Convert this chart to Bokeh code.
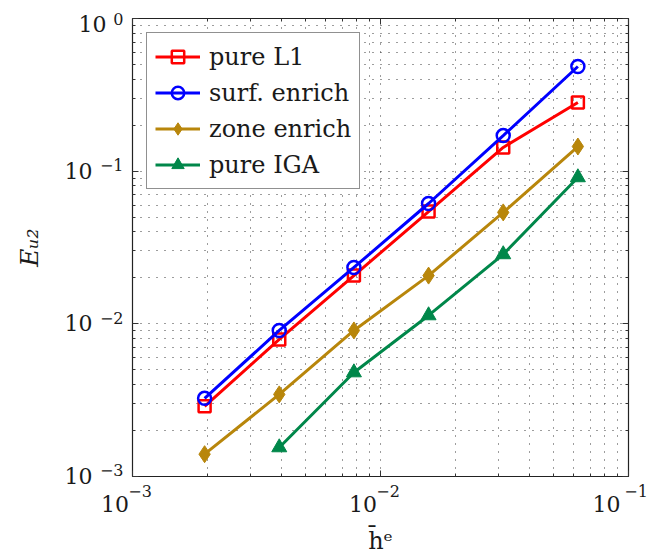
from bokeh.plotting import figure
from bokeh.models import (FixedTicker, LogAxis, Legend, LegendItem, Range1d)
from bokeh.embed import file_html
from bokeh.resources import INLINE

# ---- data ----
h = [1/512, 1/256, 1/128, 1/64, 1/32, 1/16]
pure_l1 = [2.88e-3, 7.9e-3, 0.0207, 0.0544, 0.143, 0.282]
surf_enrich = [3.25e-3, 9.05e-3, 0.0234, 0.0614, 0.171, 0.485]
zone_enrich = [1.40e-3, 3.45e-3, 9.05e-3, 0.0207, 0.0537, 0.145]
h_iga = [1/256, 1/128, 1/64, 1/32, 1/16]
pure_iga = [1.55e-3, 4.8e-3, 0.01135, 0.0285, 0.091]

x_major = [1e-3, 1e-2, 1e-1]
x_exps = ["−3", "−2", "−1"]
y_major = [1e-3, 1e-2, 1e-1, 1e0]
y_exps = ["−3", "−2", "−1", "0"]

RED, BLUE, GOLD, GREEN = "#ff0000", "#0000ff", "#b8860b", "#00874a"
FONT = "DejaVu Serif"
TXT = "#1a1a1a"
FS, PS = "\u2007", "\u2008"   # figure space, punctuation space (non-collapsing)

def minors(majors):
    out = []
    for m in majors[:-1]:
        out += [m * k for k in range(2, 10)]
    return out

def mk_ticker(majors):
    return FixedTicker(ticks=majors, minor_ticks=minors(majors))

p = figure(width=655, height=557, x_axis_type="log", y_axis_type="log",
           x_range=Range1d(1e-3, 1e-1), y_range=Range1d(1e-3, 1e0),
           output_backend="svg", toolbar_location=None,
           min_border_left=132, min_border_right=27,
           min_border_top=18, min_border_bottom=81)
p.outline_line_color = "#222222"
p.outline_line_width = 1.2

def tick_style(ax):
    ax.major_tick_in = 6
    ax.major_tick_out = 0
    ax.minor_tick_in = 3
    ax.minor_tick_out = 0
    ax.axis_line_color = None
    ax.major_tick_line_color = "#333333"
    ax.minor_tick_line_color = "#333333"

def label_axis(ticks, labels, size, standoff):
    return LogAxis(ticker=FixedTicker(ticks=ticks),
                   major_label_overrides=dict(zip(ticks, labels)),
                   major_label_text_font=FONT,
                   major_label_text_font_size=f"{size}px",
                   major_label_text_color=TXT,
                   major_label_standoff=standoff,
                   major_tick_in=0, major_tick_out=0,
                   minor_tick_in=0, minor_tick_out=0,
                   major_tick_line_color=None, minor_tick_line_color=None,
                   axis_line_color=None,
                   axis_label_text_font=FONT,
                   axis_label_text_color=TXT)

# ---- x axis: primary carries ticks + exponents, second axis carries "10"
xa = p.xaxis[0]
xa.ticker = mk_ticker(x_major)
tick_style(xa)
xa.major_label_overrides = {v: FS + PS + e for v, e in zip(x_major, x_exps)}
xa.major_label_text_font = FONT
xa.major_label_text_font_size = "16px"
xa.major_label_text_color = TXT
xa.major_label_standoff = 5

xb = label_axis(x_major, ["10" + FS + FS + PS] * len(x_major), 22, -12)
xb.axis_label = "h̄ᵉ"
xb.axis_label_text_font_size = "24px"
xb.axis_label_text_font_style = "normal"
xb.axis_label_standoff = 7
p.add_layout(xb, "below")

# ---- y axis: primary carries ticks only, then exponents (raised), then "10"
ya = p.yaxis[0]
ya.ticker = mk_ticker(y_major)
tick_style(ya)
ya.major_label_overrides = {v: FS for v in y_major}
ya.major_label_text_font_size = "8px"
ya.major_label_text_color = None
ya.major_label_standoff = 0

# exponent labels sit a little above their decade (x1.1 ~ 6 px); the top one stays
y_exp_pos = [v * 1.1 for v in y_major[:-1]] + [y_major[-1]]
y_exp_pos = [float(f"{v:.4g}") for v in y_exp_pos]
yc = label_axis(y_exp_pos, y_exps, 16, 9)
p.add_layout(yc, "left")

# "10" labels on the decades; the top one sits a little lower
y_ten_pos = list(y_major[:-1]) + [0.91]
y_ten_lab = ["10" + FS] * (len(y_major) - 1) + ["10"]
yb = label_axis(y_ten_pos, y_ten_lab, 22, -10)
yb.axis_label = "Eᵤ₂"
yb.axis_label_text_font_size = "25px"
yb.axis_label_text_font_style = "italic"
yb.axis_label_standoff = 18
p.add_layout(yb, "left")

# mirrored ticks on top and right
for loc, majors in (("above", x_major), ("right", y_major)):
    ax = LogAxis(ticker=mk_ticker(majors), major_label_text_color=None,
                 major_label_text_font_size="8px",
                 major_label_overrides={v: FS for v in majors},
                 major_label_standoff=0)
    tick_style(ax)
    p.add_layout(ax, loc)

for g in (p.xgrid[0], p.ygrid[0]):
    g.grid_line_color = "#3a3a3a"
    g.grid_line_dash = "1 7"
    g.grid_line_width = 1
    g.minor_grid_line_color = "#3a3a3a"
    g.minor_grid_line_dash = "1 7"
    g.minor_grid_line_width = 1

LW = 3
r1 = p.line(h, pure_l1, color=RED, line_width=LW)
m1 = p.scatter(h, pure_l1, marker="square", size=12, line_color=RED,
               fill_color=None, line_width=2.5)
r2 = p.line(h, surf_enrich, color=BLUE, line_width=LW)
m2 = p.scatter(h, surf_enrich, marker="circle", size=13, line_color=BLUE,
               fill_color=None, line_width=2.5)
r3 = p.line(h, zone_enrich, color=GOLD, line_width=LW)
m3 = p.scatter(h, zone_enrich, marker="diamond", size=17, line_color=GOLD,
               fill_color=GOLD, line_width=1)
r4 = p.line(h_iga, pure_iga, color=GREEN, line_width=LW)
m4 = p.scatter(h_iga, pure_iga, marker="triangle", size=15, line_color=GREEN,
               fill_color=GREEN, line_width=1)

legend = Legend(items=[
    LegendItem(label="pure L1", renderers=[r1, m1]),
    LegendItem(label="surf. enrich", renderers=[r2, m2]),
    LegendItem(label="zone enrich", renderers=[r3, m3]),
    LegendItem(label="pure IGA", renderers=[r4, m4]),
], location="top_left")
legend.label_text_font = FONT
legend.label_text_font_size = "24px"
legend.label_text_color = TXT
legend.border_line_color = "#222222"
legend.border_line_width = 1.5
legend.margin = 14
legend.padding = 8
legend.spacing = 5
legend.label_height = 31
legend.glyph_height = 31
legend.glyph_width = 45
legend.label_standoff = 9
legend.background_fill_alpha = 1
p.add_layout(legend)

open("out.html", "w").write(file_html(p, INLINE))
